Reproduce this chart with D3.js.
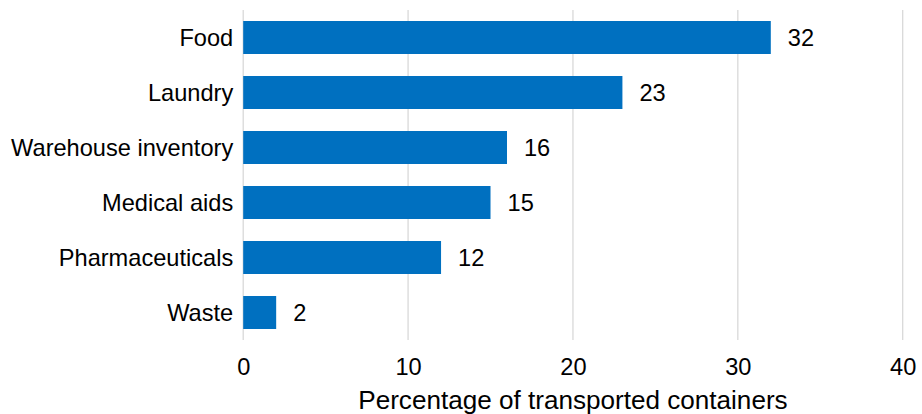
<!DOCTYPE html>
<html>
<head>
<meta charset="utf-8">
<script src="https://cdn.jsdelivr.net/npm/d3@7"></script>
<style>
  html, body { margin: 0; padding: 0; background: #fff; }
  svg { display: block; font-family: "Liberation Sans", Arial, sans-serif; }
</style>
</head>
<body>
<svg id="chart" width="922" height="414"></svg>
<script>
// Share of transported containers by goods category
const categories = ["Food", "Laundry", "Warehouse inventory", "Medical aids", "Pharmaceuticals", "Waste"];
const values = [32, 23, 16, 15, 12, 2];
const xTicks = [0, 10, 20, 30, 40];
const xTitle = "Percentage of transported containers";

const svg = d3.select("#chart");
const margin = { top: 10, right: 19.3, bottom: 74, left: 243.2 };
const width = 922 - margin.left - margin.right;
const height = 414 - margin.top - margin.bottom;
const fontSize = 23.6;

const g = svg.append("g").attr("transform", `translate(${margin.left},${margin.top})`);

const x = d3.scaleLinear().domain([0, 40]).range([0, width]);
const y = d3.scaleBand().domain(categories).range([0, height]).paddingInner(0.4).paddingOuter(0.2);

// vertical gridlines
g.selectAll("line.grid")
  .data(xTicks)
  .join("line")
  .attr("class", "grid")
  .attr("x1", d => x(d)).attr("x2", d => x(d))
  .attr("y1", 0).attr("y2", height)
  .attr("stroke", "#d9d9d9")
  .attr("stroke-width", 1.3);

// bars
g.selectAll("rect.bar")
  .data(values)
  .join("rect")
  .attr("class", "bar")
  .attr("x", x(0))
  .attr("y", (d, i) => y(categories[i]))
  .attr("width", d => x(d) - x(0))
  .attr("height", y.bandwidth())
  .attr("fill", "#0070c0");

// value labels
g.selectAll("text.value")
  .data(values)
  .join("text")
  .attr("class", "value")
  .attr("x", d => x(d) + 17)
  .attr("y", (d, i) => y(categories[i]) + y.bandwidth() / 2)
  .attr("dy", "0.36em")
  .attr("font-size", fontSize)
  .attr("fill", "#000")
  .text(d => d);

// category axis
const yAxis = d3.axisLeft(y).tickSize(0).tickPadding(10);
g.append("g").call(yAxis)
  .call(s => s.select(".domain").remove())
  .selectAll("text")
  .attr("font-size", fontSize)
  .attr("font-family", "Liberation Sans, Arial, sans-serif")
  .attr("fill", "#000")
  .attr("dy", "0.36em");

// value axis
const xAxis = d3.axisBottom(x).tickValues(xTicks).tickSize(0).tickPadding(18);
g.append("g").attr("transform", `translate(0,${height})`).call(xAxis)
  .call(s => s.select(".domain").remove())
  .selectAll("text")
  .attr("font-size", fontSize)
  .attr("font-family", "Liberation Sans, Arial, sans-serif")
  .attr("fill", "#000");

// axis title
g.append("text")
  .attr("x", width / 2)
  .attr("y", height + 69)
  .attr("text-anchor", "middle")
  .attr("font-size", 26.1)
  .attr("fill", "#000")
  .text(xTitle);
</script>
</body>
</html>
